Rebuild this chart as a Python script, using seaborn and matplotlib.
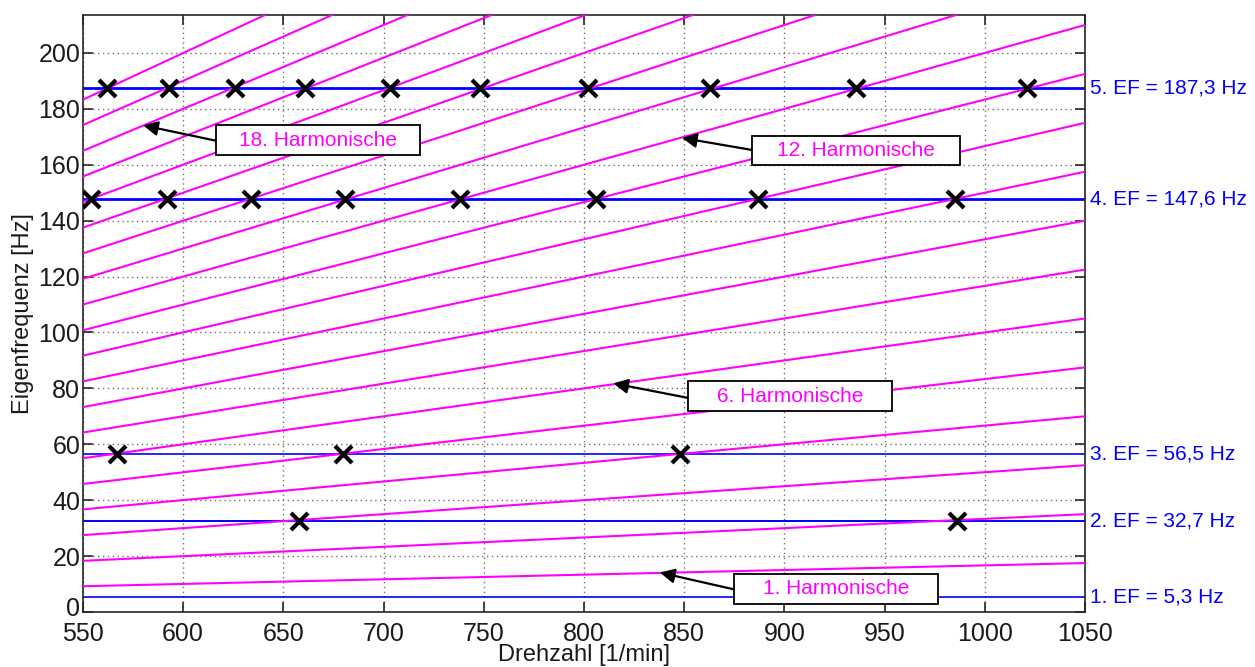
import matplotlib
matplotlib.use("Agg")
import matplotlib.pyplot as plt
from matplotlib.patches import Rectangle
from matplotlib.transforms import blended_transform_factory, ScaledTranslation
import numpy as np
import pandas as pd
import seaborn as sns

# ---------------- data ----------------
rpm_range = [550, 1050]
harmonic_order = list(range(1, 21))
freq_at_550 = [9.2, 18.3, 27.5, 36.7, 45.8, 55.0, 64.2, 73.3, 82.5, 91.7,
               100.8, 110.0, 119.2, 128.3, 137.5, 146.7, 155.8, 165.0, 174.2, 183.3]
freq_at_1050 = [17.5, 35.0, 52.5, 70.0, 87.5, 105.0, 122.5, 140.0, 157.5, 175.0,
                192.5, 210.0, 227.5, 245.0, 262.5, 280.0, 297.5, 315.0, 332.5, 350.0]

ef_values = [5.3, 32.7, 56.5, 147.6, 187.3]
ef_labels = ["1. EF = 5,3 Hz", "2. EF = 32,7 Hz", "3. EF = 56,5 Hz",
             "4. EF = 147,6 Hz", "5. EF = 187,3 Hz"]

cross_rpm_ef2 = [658, 986]
cross_rpm_ef3 = [567, 680, 848]
cross_rpm_ef4 = [554, 592, 634, 681, 738, 806, 887, 985]
cross_rpm_ef5 = [562, 593, 626, 661, 703, 748, 802, 863, 936, 1021]

harmonic_labels = ["18. Harmonische", "12. Harmonische", "6. Harmonische", "1. Harmonische"]

# ---------------- frames ----------------
rows = []
for k, f0, f1 in zip(harmonic_order, freq_at_550, freq_at_1050):
    rows.append({"harmonic": k, "rpm": rpm_range[0], "freq": f0})
    rows.append({"harmonic": k, "rpm": rpm_range[1], "freq": f1})
df_h = pd.DataFrame(rows)

crows = []
for ef, lst in zip(ef_values[1:], [cross_rpm_ef2, cross_rpm_ef3, cross_rpm_ef4, cross_rpm_ef5]):
    for r in lst:
        crows.append({"rpm": r, "freq": ef})
df_x = pd.DataFrame(crows)

# ---------------- style ----------------
sns.set_theme(style="ticks")
plt.rcParams["font.family"] = ["Liberation Sans", "DejaVu Sans"]

fig = plt.figure(figsize=(12.55, 6.67), dpi=100)
ax = fig.add_axes([0.0661, 0.0825, 0.7984, 0.8951])
ax.set_axisbelow(True)
ax.grid(True, linestyle=(0, (1, 2.5)), color="#6e6e6e", lw=1.0)

ef_lw = [1.2, 1.4, 1.2, 2.0, 2.0]
for ef, lw in zip(ef_values, ef_lw):
    ax.axhline(ef, color="#0000ff", lw=lw, zorder=2)

sns.lineplot(data=df_h, x="rpm", y="freq", units="harmonic", estimator=None,
             color="#ff00ff", lw=1.5, ax=ax, zorder=3, legend=False)
sns.scatterplot(data=df_x, x="rpm", y="freq", marker="x", color="black",
                s=150, linewidth=3.0, ax=ax, zorder=5, legend=False)

ax.set_xlim(550, 1050)
ax.set_ylim(0, 213.6)
ax.set_xticks(np.arange(550, 1051, 50))
ax.set_yticks(np.arange(0, 201, 20))
ax.tick_params(direction="in", top=True, right=True, length=7, width=1.2,
               labelsize=18, color="#262626", labelcolor="#1a1a1a")
ax.tick_params(axis="x", pad=7)
ax.tick_params(axis="y", pad=2)
for sp in ax.spines.values():
    sp.set_color("#262626")
    sp.set_linewidth(1.2)

ax.set_xlabel("Drehzahl [1/min]", fontsize=17, labelpad=-1, color="#1a1a1a")
ax.set_ylabel("Eigenfrequenz [Hz]", fontsize=17, labelpad=3, color="#1a1a1a")

# nudge the "0" label up slightly so it does not collide with "550"
fig.canvas.draw()
ylab0 = ax.get_yticklabels()[0]
ylab0.set_transform(ylab0.get_transform() + ScaledTranslation(0, 4 / 72, fig.dpi_scale_trans))

# EF labels on the right
trans = blended_transform_factory(ax.transAxes, ax.transData)
for ef, lab in zip(ef_values, ef_labels):
    ax.text(1.005, ef, lab, transform=trans, color="#0000ff", fontsize=15,
            va="center", ha="left", clip_on=False)

# annotation boxes: (x0, x1, y0, y1) box, arrow tail, arrow head
boxes = [
    ((616.4, 718.2, 163.5, 174.2), (616.4, 168.6), (580.0, 174.1)),
    ((883.8, 987.6, 159.9, 170.3), (883.8, 165.3), (848.9, 169.6)),
    ((851.9, 953.7, 71.9, 82.6), (851.9, 76.6), (814.6, 81.8)),
    ((874.8, 976.6, 2.9, 13.6), (874.8, 8.1), (837.9, 14.1)),
]
for lab, (bx, tail, head) in zip(harmonic_labels, boxes):
    x0, x1, y0, y1 = bx
    ax.add_patch(Rectangle((x0, y0), x1 - x0, y1 - y0, facecolor="white",
                           edgecolor="black", lw=1.3, zorder=7))
    ax.text((x0 + x1) / 2, (y0 + y1) / 2, lab, color="#ff00ff", fontsize=15,
            ha="center", va="center", zorder=8)
    ax.annotate("", xy=head, xytext=tail,
                arrowprops=dict(arrowstyle="-|>", color="black", lw=1.6,
                                mutation_scale=22, shrinkA=0, shrinkB=0),
                zorder=6)

fig.savefig("out.png", dpi=100)
